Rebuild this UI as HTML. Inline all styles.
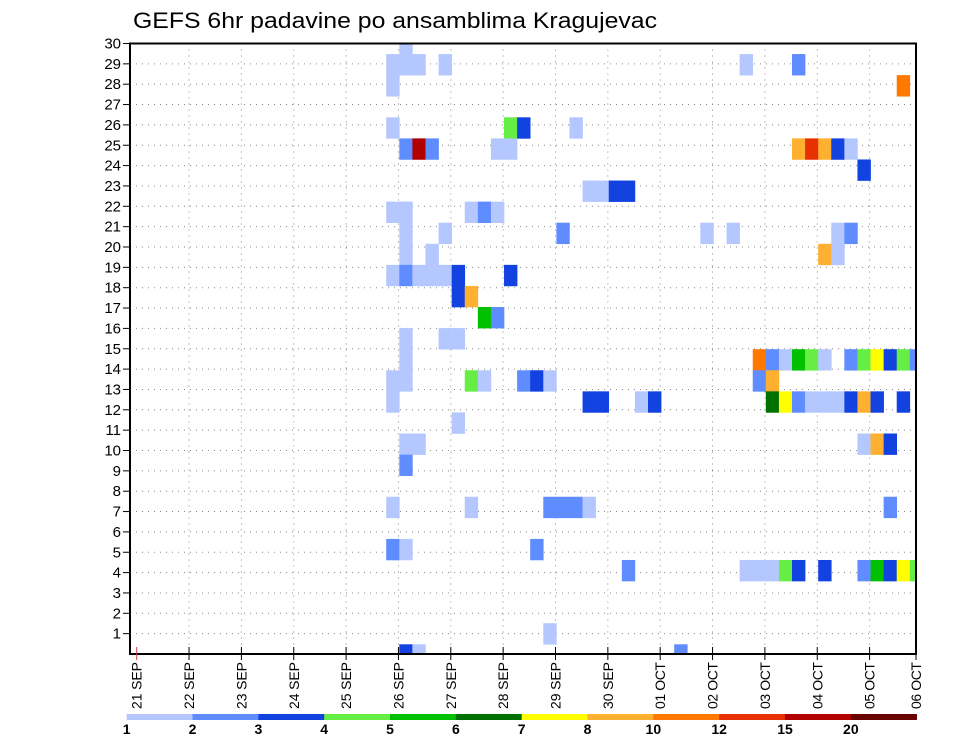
<!DOCTYPE html>
<html><head><meta charset="utf-8">
<style>
html,body{margin:0;padding:0;background:#fff;}
svg{display:block;font-family:"Liberation Sans",sans-serif;}
</style></head>
<body>
<svg id="chart" width="960" height="742" viewBox="0 0 960 742" xmlns="http://www.w3.org/2000/svg">
<rect x="0" y="0" width="960" height="742" fill="#fff"/>
<text x="133" y="28" font-size="22" textLength="524" lengthAdjust="spacingAndGlyphs" fill="#000">GEFS 6hr padavine po ansamblima Kragujevac</text>
<g id="grid"></g>
<defs><clipPath id="plotclip"><rect x="130" y="43.5" width="786" height="610.5"/></clipPath></defs>
<g id="cells" clip-path="url(#plotclip)"></g>
<rect x="130" y="43.5" width="786" height="610.5" fill="none" stroke="#000" stroke-width="2"/>
<g id="yaxis"></g>
<g id="xaxis"></g>
<g id="legend"></g>
</svg>
<script>
// ---- data ----
const dayLabels = ["21 SEP","22 SEP","23 SEP","24 SEP","25 SEP","26 SEP","27 SEP","28 SEP","29 SEP","30 SEP","01 OCT","02 OCT","03 OCT","04 OCT","05 OCT","06 OCT"];
const memberTicks = [1,2,3,4,5,6,7,8,9,10,11,12,13,14,15,16,17,18,19,20,21,22,23,24,25,26,27,28,29,30];
const levelBounds = [1,2,3,4,5,6,7,8,10,12,15,20];
const levelColors = ["#b4c8ff","#5f8cff","#1242e0","#66ee44","#00c000","#007000","#ffff00","#ffb030","#ff7800","#e83000","#b00000","#6a0000"];
// each cell: 6-hour step index, ensemble member row, precipitation (mm)
const cellStep = [20, 19,20,21,23,46,50, 19,58, 19,28,29,33, 20,21,22,27,28,50,51,52,53,54, 55, 34,35,36,37, 19,20,25,26,27, 20,23,32,43,45,53,54, 20,22,52,53, 19,20,21,22,23,24,28, 24,25, 26,27, 20,23,24, 20,47,48,49,50,51,52,54,55,56,57,58,59, 19,20,25,26,29,30,31,47,48, 19,34,35,38,39,48,49,50,51,52,53,54,55,56,58, 24, 20,21,55,56,57, 20, 19,25,31,32,33,34,57, 19,20,30, 37,46,47,48,49,50,52,55,56,57,58,59, 31, 20,21,41];
const cellMember = [29, 28,28,28,28,28,28, 27,27, 25,25,25,25, 24,24,24,24,24,24,24,24,24,24, 23, 22,22,22,22, 21,21,21,21,21, 20,20,20,20,20,20,20, 19,19,19,19, 18,18,18,18,18,18,18, 17,17, 16,16, 15,15,15, 14,14,14,14,14,14,14,14,14,14,14,14,14, 13,13,13,13,13,13,13,13,13, 12,12,12,12,12,12,12,12,12,12,12,12,12,12,12, 11, 10,10,10,10,10, 9, 7,7,7,7,7,7,7, 5,5,5, 4,4,4,4,4,4,4,4,4,4,4,4, 1, 0,0,0];
const cellPrecip = [1.5, 1.5,1.5,1.5,1.5,1.5,2.5, 1.5,11, 1.5,4.5,3.5,1.5, 2.5,17,2.5,1.5,1.5,9,13.5,9,3.5,1.5, 3.5, 1.5,1.5,3.5,3.5, 1.5,1.5,1.5,2.5,1.5, 1.5,1.5,2.5,1.5,1.5,1.5,2.5, 1.5,1.5,9,1.5, 1.5,2.5,1.5,1.5,1.5,3.5,3.5, 3.5,9, 5.5,2.5, 1.5,1.5,1.5, 1.5,11,2.5,1.5,5.5,4.5,1.5,2.5,4.5,7.5,3.5,4.5,2.5, 1.5,1.5,4.5,1.5,2.5,3.5,1.5,2.5,9, 1.5,3.5,3.5,1.5,3.5,6.5,7.5,2.5,1.5,1.5,1.5,3.5,9,3.5,3.5, 1.5, 1.5,1.5,1.5,9,3.5, 2.5, 1.5,1.5,2.5,2.5,2.5,1.5,2.5, 2.5,1.5,2.5, 2.5,1.5,1.5,1.5,4.5,3.5,3.5,2.5,5.5,3.5,7.5,4.5, 1.5, 3.5,1.5,2.5];

// ---- scales ----
const NS="http://www.w3.org/2000/svg";
const X0=137.5, STEP_W=13.09;
function stepX(i){return X0+STEP_W*i;}
function dayX(d){return d===15?916:136.7+52.35*d;}
const ROW_H=21.08;
function memberTop(r){return 644.3-ROW_H*r;}
function tickY(k){return 654-20.35*k;}
function colorFor(v){let c=null;for(let j=0;j<levelBounds.length;j++){if(v>=levelBounds[j])c=levelColors[j];}return c;}
function mk(tag,attrs,parent){const e=document.createElementNS(NS,tag);for(const k in attrs)e.setAttribute(k,attrs[k]);parent.appendChild(e);return e;}

// grid
const grid=document.getElementById('grid');
for(let k=1;k<=29;k++){
  const l=mk('line',{x1:130,x2:916,y1:tickY(k),y2:tickY(k),stroke:'#888','stroke-width':1,'stroke-dasharray':'1,5'},grid);
  
  
}
for(let d=1;d<15;d++){
  const l=mk('line',{x1:dayX(d),x2:dayX(d),y1:43.5,y2:654,stroke:'#888','stroke-width':1,'stroke-dasharray':'1,5'},grid);
  
  
}

// cells
const cells=document.getElementById('cells');
for(let n=0;n<cellStep.length;n++){
  const c=colorFor(cellPrecip[n]); if(!c)continue;
  const r=mk('rect',{x:stepX(cellStep[n]),y:memberTop(cellMember[n]),width:STEP_W+0.3,height:ROW_H+0.3,fill:c},cells);
  
  
}

// y axis
const ya=document.getElementById('yaxis');
memberTicks.forEach(k=>{
  const y=tickY(k);
  mk('line',{x1:123,x2:130,y1:y,y2:y,stroke:'#000','stroke-width':1},ya);
  const t=mk('text',{x:121,y:y+5,'font-size':15,'text-anchor':'end',fill:'#000'},ya);
  t.textContent=k;
  
  
});

// x axis
const xa=document.getElementById('xaxis');
dayLabels.forEach((lab,d)=>{
  const x=dayX(d);
  mk('line',{x1:x,x2:x,y1:647,y2:660,stroke:d===0?'#c44':'#000','stroke-width':1},xa);
  const t=mk('text',{x:0,y:0,'font-size':14,'text-anchor':'end',fill:'#000',textLength:47,lengthAdjust:'spacing',transform:'translate('+(x+5)+',662) rotate(-90)'},xa);
  t.textContent=lab;
  
  
});

// legend
const lg=document.getElementById('legend');
const LX=126.7, LW=65.83;
levelColors.forEach((c,j)=>{
  const r=mk('rect',{x:LX+LW*j,y:714,width:LW+0.3,height:6,fill:c},lg);
  
  
});
levelBounds.forEach((b,j)=>{
  const t=mk('text',{x:LX+LW*j,y:734,'font-size':14,'font-weight':'bold','text-anchor':'middle',fill:'#000'},lg);
  t.textContent=b;
  
  
});
</script>
</body></html>
